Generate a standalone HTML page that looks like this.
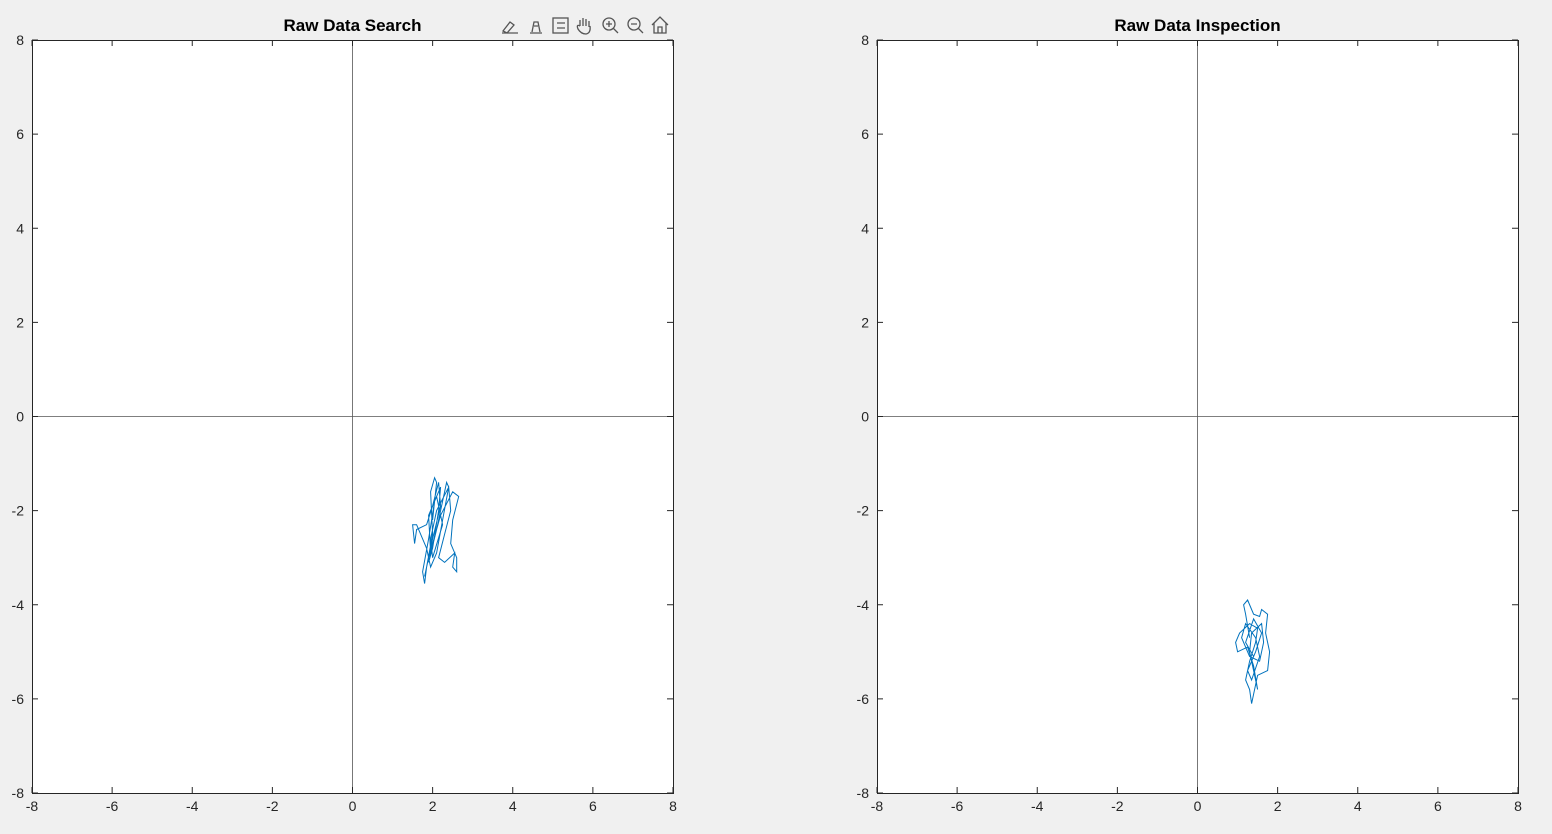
<!DOCTYPE html>
<html><head><meta charset="utf-8"><style>
html,body{margin:0;padding:0;background:#f0f0f0;width:1552px;height:834px;overflow:hidden;font-family:"Liberation Sans",Arial,sans-serif}
</style></head><body>
<svg id="fig" width="1552" height="834" xmlns="http://www.w3.org/2000/svg" font-family="Liberation Sans, Arial, sans-serif">
<g id="tb" fill="none" stroke="#555" stroke-width="1.3">
 <g><path d="M503 31 L510 22 L514 25 L507 33 Z M502 33 L518 33"/></g>
 <g><path d="M530 33 L542 33 M532 32 L534 22 L538 22 L540 32 M534 26 L538 26"/></g>
 <g><rect x="553" y="18" width="15" height="15"/><path d="M557 23 L565 23 M557 28 L565 28"/></g>
 <g><path d="M580 26 L580 20 M583 26 L583 18 M586 26 L586 19 M589 27 L589 21 M580 26 Q576 24 578 29 Q581 34 586 34 Q591 33 590 26"/></g>
 <g><circle cx="609" cy="24" r="6"/><path d="M613 28 L618 33 M606 24 L612 24 M609 21 L609 27"/></g>
 <g><circle cx="634" cy="24" r="6"/><path d="M638 28 L643 33 M631 24 L637 24"/></g>
 <g><path d="M652 25 L660 17 L668 25 M654 23 L654 33 L666 33 L666 23 M658 33 L658 27 L662 27 L662 33"/></g>
</g>
</svg>
<script>
const xTicks=[-8,-6,-4,-2,0,2,4,6,8];
const yTicks=[-8,-6,-4,-2,0,2,4,6,8];
const searchX=[2.0,2.1,2.05,1.95,2.0,1.85,1.8,1.75,1.9,2.05,2.2,2.15,2.0,1.9,2.1,2.3,2.35,2.4,2.25,2.1,1.95,1.85,1.6,1.5,1.55,1.6,1.85,2.0,2.15,2.2,2.0,1.8,1.9,2.2,2.5,2.65,2.5,2.45,2.6,2.6,2.5,2.55,2.3,2.15,2.3,2.45,2.4,2.1,1.95,2.0,2.25,2.1,1.9,1.95];
const searchY=[-2.2,-1.4,-1.3,-1.6,-2.5,-3.2,-3.55,-3.3,-2.6,-1.8,-1.5,-2.0,-2.8,-3.1,-2.4,-1.6,-1.4,-1.5,-2.2,-2.9,-3.2,-2.8,-2.3,-2.3,-2.7,-2.4,-2.3,-1.9,-1.4,-1.9,-2.6,-3.4,-3.0,-2.1,-1.6,-1.7,-2.2,-2.7,-3.0,-3.3,-3.2,-2.9,-3.1,-3.0,-2.5,-2.0,-1.5,-2.0,-2.6,-3.0,-2.3,-1.7,-2.1,-2.9];
const inspX=[1.3,1.2,1.15,1.25,1.4,1.55,1.6,1.75,1.7,1.8,1.75,1.5,1.4,1.35,1.3,1.2,1.3,1.45,1.5,1.3,1.05,0.95,1.0,1.25,1.4,1.5,1.4,1.3,1.35,1.6,1.65,1.55,1.3,1.1,1.2,1.45,1.55,1.35,1.25,1.45,1.6,1.4,1.2,1.4];
const inspY=[-4.7,-4.2,-4.0,-3.9,-4.2,-4.25,-4.1,-4.2,-4.6,-5.0,-5.4,-5.5,-5.9,-6.1,-5.8,-5.6,-5.2,-4.8,-4.5,-4.4,-4.6,-4.8,-5.0,-4.9,-5.3,-5.8,-5.4,-5.0,-4.6,-4.4,-4.8,-5.2,-5.1,-4.7,-4.4,-4.7,-5.1,-5.6,-5.4,-5.0,-4.6,-4.3,-4.8,-5.1];
const NS='http://www.w3.org/2000/svg';
const svg=document.getElementById('fig');
function mk(t,a,p){const e=document.createElementNS(NS,t);for(const k in a)e.setAttribute(k,a[k]);p.appendChild(e);return e;}
function axes(left,title,xs,ys,name){
  const top=40,w=641,h=753;
  const sx=v=>left+(v+8)/16*w, sy=v=>top+(8-v)/16*h;
  const g=mk('g',{},svg);
  
  
  mk('rect',{x:left,y:top,width:w,height:h,fill:'#fff',stroke:'none'},g);
  const zx=mk('line',{x1:left,x2:left+w,y1:sy(0),y2:sy(0),stroke:'#555','stroke-width':0.8},g);
  
  
  const zy=mk('line',{x1:sx(0),x2:sx(0),y1:top,y2:top+h,stroke:'#555','stroke-width':0.8},g);
  
  
  xTicks.forEach(v=>{
    const x=sx(v);
    mk('line',{x1:x,x2:x,y1:top+h,y2:top+h-6,stroke:'#262626'},g);
    mk('line',{x1:x,x2:x,y1:top,y2:top+6,stroke:'#262626'},g);
    const t=mk('text',{x:x,y:top+h+18,'text-anchor':'middle','font-size':14,fill:'#262626'},g);
    t.textContent=v;
    
    
  });
  yTicks.forEach(v=>{
    const y=sy(v);
    mk('line',{x1:left,x2:left+6,y1:y,y2:y,stroke:'#262626'},g);
    mk('line',{x1:left+w,x2:left+w-6,y1:y,y2:y,stroke:'#262626'},g);
    const t=mk('text',{x:left-8,y:y+5,'text-anchor':'end','font-size':14,fill:'#262626'},g);
    t.textContent=v;
    
    
  });
  const pts=xs.map((v,i)=>sx(v).toFixed(1)+','+sy(ys[i]).toFixed(1)).join(' ');
  const pl=mk('polyline',{points:pts,fill:'none',stroke:'#0072bd','stroke-width':1},g);
  
  
  const b=mk('rect',{x:left+0.5,y:top+0.5,width:w,height:h,fill:'none',stroke:'#262626','stroke-width':1},g);
  
  
  const tt=mk('text',{x:left+w/2,y:31,'text-anchor':'middle','font-size':17,'font-weight':'bold',fill:'#000'},g);
  tt.textContent=title;
  
  
}
axes(32,'Raw Data Search',searchX,searchY,'raw-data-search-axes');
axes(877,'Raw Data Inspection',inspX,inspY,'raw-data-inspection-axes');
svg.appendChild(document.getElementById('tb'));
</script>
</body></html>
